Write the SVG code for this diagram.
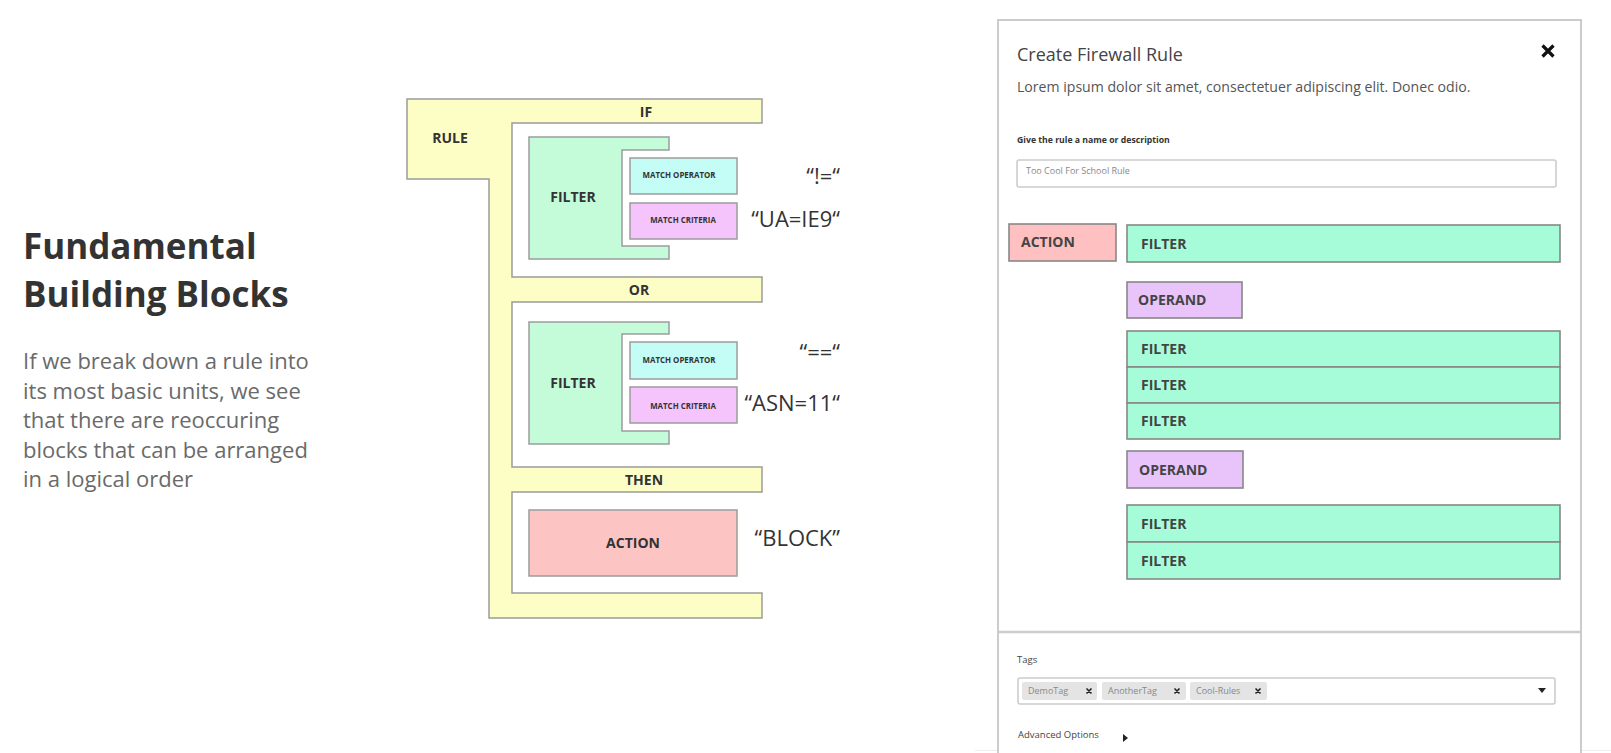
<svg xmlns="http://www.w3.org/2000/svg" width="1611" height="753" viewBox="0 0 1611 753">
<style>
text{font-family:"Open Sans","Liberation Sans",sans-serif;}
.b{font-weight:bold;fill:#333;}
.lbl{font-size:14px;font-weight:bold;fill:#333;text-anchor:middle;}
.sm{font-size:7.9px;font-weight:bold;fill:#333;text-anchor:middle;}
.q{font-size:22px;fill:#333;text-anchor:end;}
.blk{stroke:#9c9c9c;stroke-width:1.5;}
.rb{stroke:#888;stroke-width:1.6;}
.rl{font-size:14px;font-weight:bold;fill:#444;}
.tiny{font-size:9.5px;fill:#444;}
.chip{fill:#e4e4e4;}
.ct{font-size:9px;fill:#888;}
.x{stroke:#222;stroke-width:1.6;}
</style>
<rect width="1611" height="753" fill="#ffffff"/>

<g id="intro">
<text x="23" y="259" class="b" font-size="35" fill="#333">Fundamental</text>
<text x="23" y="307" class="b" font-size="35" fill="#333">Building Blocks</text>
<g font-size="22" fill="#6a6a6a">
<text x="23" y="369">If we break down a rule into</text>
<text x="23" y="398.5">its most basic units, we see</text>
<text x="23" y="428">that there are reoccuring</text>
<text x="23" y="457.5">blocks that can be arranged</text>
<text x="23" y="487">in a logical order</text>
</g>
</g>

<g id="rule">
<polygon class="blk" fill="#fdfdc6" points="407,99 762,99 762,123 512,123 512,277 762,277 762,302 512,302 512,467 762,467 762,492 512,492 512,593 762,593 762,618 489,618 489,179 407,179"/>
<text x="450" y="143" class="lbl">RULE</text>
<text x="646" y="117" class="lbl">IF</text>
<text x="639" y="295" class="lbl">OR</text>
<text x="644" y="485" class="lbl">THEN</text>
</g>

<g id="filter1">
<polygon class="blk" fill="#c4fcda" points="529,137 669,137 669,150 622,150 622,246 669,246 669,259 529,259"/>
<text x="573" y="202" class="lbl">FILTER</text>
</g>
<g id="match-operator1">
<rect class="blk" fill="#c4fdf6" x="630" y="158" width="107" height="36"/>
<text x="679" y="178" class="sm">MATCH OPERATOR</text>
</g>
<g id="match-criteria1">
<rect class="blk" fill="#f6c4fc" x="630" y="203" width="107" height="36"/>
<text x="683" y="223" class="sm">MATCH CRITERIA</text>
</g>

<g id="filter2">
<polygon class="blk" fill="#c4fcda" points="529,322 669,322 669,334 622,334 622,431 669,431 669,444 529,444"/>
<text x="573" y="388" class="lbl">FILTER</text>
</g>
<g id="match-operator2">
<rect class="blk" fill="#c4fdf6" x="630" y="342" width="107" height="37"/>
<text x="679" y="363" class="sm">MATCH OPERATOR</text>
</g>
<g id="match-criteria2">
<rect class="blk" fill="#f6c4fc" x="630" y="387" width="107" height="36"/>
<text x="683" y="409" class="sm">MATCH CRITERIA</text>
</g>

<g id="action-left">
<rect class="blk" fill="#fdc4c4" x="529" y="510" width="208" height="66"/>
<text x="633" y="548" class="lbl">ACTION</text>
</g>

<g id="values">
<text x="840" y="184" class="q">“!=“</text>
<text x="840" y="227" class="q">“UA=IE9“</text>
<text x="840" y="360" class="q">“==“</text>
<text x="840" y="411" class="q">“ASN=11“</text>
<text x="840" y="546" class="q">“BLOCK”</text>
</g>

<g id="panel">
<line x1="975" y1="750.5" x2="1611" y2="750.5" stroke="#eeeeee" stroke-width="1"/>
<rect x="998" y="20" width="583" height="745" fill="#ffffff" stroke="#cccccc" stroke-width="2"/>
<line x1="998" y1="632" x2="1581" y2="632" stroke="#cccccc" stroke-width="2.5"/>
<text x="1017" y="61" font-size="18" fill="#444">Create Firewall Rule</text>
<path d="M1542.5,45.5 L1553.5,56.5 M1553.5,45.5 L1542.5,56.5" stroke="#111" stroke-width="3.2"/>
<text x="1017" y="92" font-size="14.1" fill="#555">Lorem ipsum dolor sit amet, consectetuer adipiscing elit. Donec odio.</text>
<text x="1017" y="143" font-size="8.7" font-weight="bold" fill="#333">Give the rule a name or description</text>
<rect x="1017" y="160" width="539" height="27" rx="2" fill="#fff" stroke="#cccccc" stroke-width="1.6"/>
<text x="1026" y="174" font-size="9" fill="#888">Too Cool For School Rule</text>
</g>

<g id="action-right">
<rect class="rb" fill="#fec0c0" x="1009" y="224" width="107" height="37"/>
<text x="1021" y="247" class="rl">ACTION</text>
</g>
<g id="filter-a">
<rect class="rb" fill="#a6fcd8" x="1127" y="225" width="433" height="37"/>
<text x="1141" y="249" class="rl">FILTER</text>
</g>
<g id="operand1">
<rect class="rb" fill="#e9c4fb" x="1127" y="282" width="115" height="36"/>
<text x="1138" y="305" class="rl">OPERAND</text>
</g>
<g id="filter-b">
<rect class="rb" fill="#a6fcd8" x="1127" y="331" width="433" height="36"/>
<text x="1141" y="354" class="rl">FILTER</text>
</g>
<g id="filter-c">
<rect class="rb" fill="#a6fcd8" x="1127" y="367" width="433" height="36"/>
<text x="1141" y="390" class="rl">FILTER</text>
</g>
<g id="filter-d">
<rect class="rb" fill="#a6fcd8" x="1127" y="403" width="433" height="36"/>
<text x="1141" y="426" class="rl">FILTER</text>
</g>
<g id="operand2">
<rect class="rb" fill="#e9c4fb" x="1127" y="451" width="116" height="37"/>
<text x="1139" y="475" class="rl">OPERAND</text>
</g>
<g id="filter-e">
<rect class="rb" fill="#a6fcd8" x="1127" y="505" width="433" height="37"/>
<text x="1141" y="529" class="rl">FILTER</text>
</g>
<g id="filter-f">
<rect class="rb" fill="#a6fcd8" x="1127" y="542" width="433" height="37"/>
<text x="1141" y="566" class="rl">FILTER</text>
</g>

<g id="tags">
<text x="1017" y="663" class="tiny">Tags</text>
<rect x="1018" y="678" width="537" height="26" rx="2" fill="#fff" stroke="#cccccc" stroke-width="1.6"/>
<rect class="chip" x="1022" y="682" width="75" height="18" rx="2"/>
<rect class="chip" x="1102" y="682" width="84" height="18" rx="2"/>
<rect class="chip" x="1190" y="682" width="77" height="18" rx="2"/>
<text x="1028" y="694" class="ct">DemoTag</text>
<text x="1108" y="694" class="ct">AnotherTag</text>
<text x="1196" y="694" class="ct">Cool-Rules</text>
<path class="x" d="M1086.5,688.5 l5,5 m0,-5 l-5,5 M1174.5,688.5 l5,5 m0,-5 l-5,5 M1255.5,688.5 l5,5 m0,-5 l-5,5"/>
<polygon points="1538,688 1546,688 1542,693" fill="#222"/>
<text x="1018" y="738" class="tiny">Advanced Options</text>
<polygon points="1123,734 1128,738 1123,742" fill="#222"/>
</g>
</svg>
